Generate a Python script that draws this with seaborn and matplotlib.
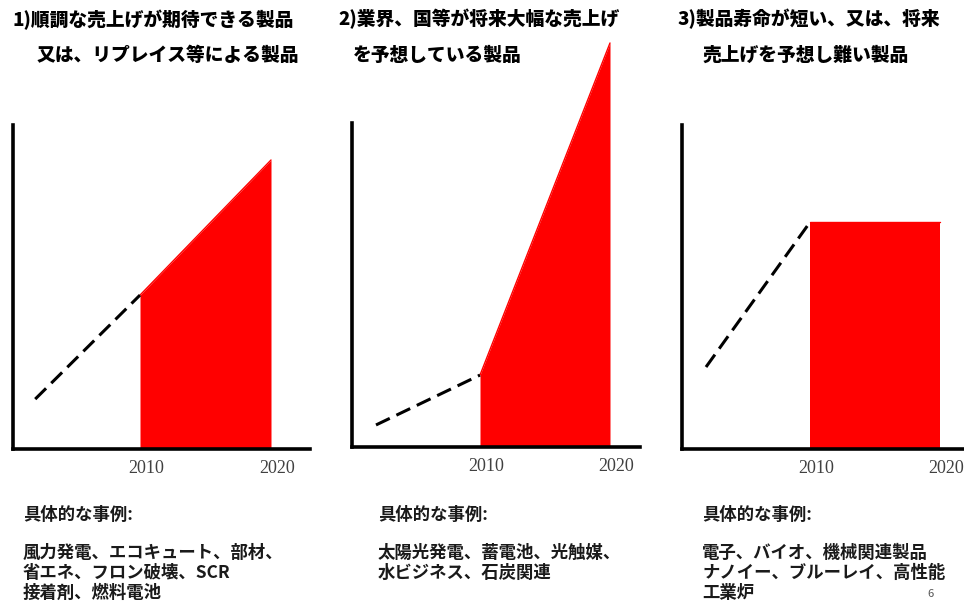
import matplotlib
matplotlib.use("Agg")
import matplotlib.pyplot as plt
import seaborn as sns
import pandas as pd

# ---- data ----
years_hist = [2002, 2010]
years_fore = [2010, 2020]
tick_years = [2010, 2020]
tick_labels = ["2010", "2020"]

p1_hist = [15.4, 47.5]
p1_fore = [47.5, 89.2]
p2_hist = [6.8, 22.2]
p2_fore = [22.2, 124.7]
p3_hist = [25.3, 70.0]
p3_fore = [70.0, 70.0]

titles = [
    ("1)順調な売上げが期待できる製品", "又は、リプレイス等による製品"),
    ("2)業界、国等が将来大幅な売上げ", "を予想している製品"),
    ("3)製品寿命が短い、又は、将来", "売上げを予想し難い製品"),
]
example_head = "具体的な事例:"
examples = [
    ["風力発電、エコキュート、部材、", "省エネ、フロン破壊、SCR", "接着剤、燃料電池"],
    ["太陽光発電、蓄電池、光触媒、", "水ビジネス、石炭関連"],
    ["電子、バイオ、機械関連製品", "ナノイー、ブルーレイ、高性能", "工業炉"],
]
page_no = "6"

# ---- figure ----
sns.set_theme(style="white")
plt.rcParams["font.family"] = ["Noto Sans CJK JP", "DejaVu Sans"]

W, H = 964, 612
fig = plt.figure(figsize=(W / 100, H / 100), dpi=100)
fig.patch.set_facecolor("white")

YMAX = 130.0
PX_PER_UNIT = 3.24

# panel geometry in pixels: spine x, right end, x of 2010, x of 2020, baseline y
geoms = [
    (13, 310, 140, 271, 449),
    (352, 640, 480, 610, 447),
    (682, 964, 810, 940, 449),
]
series = [(p1_hist, p1_fore), (p2_hist, p2_fore), (p3_hist, p3_fore)]

for (x0, x1, x10, x20, yb), (hist, fore) in zip(geoms, series):
    ppy = (x20 - x10) / 10.0
    xl = (2010 - (x10 - x0) / ppy, 2010 + (x1 - x10) / ppy)
    hpx = YMAX * PX_PER_UNIT
    ax = fig.add_axes([x0 / W, (H - yb) / H, (x1 - x0) / W, hpx / H])
    ax.set_facecolor("none")
    ax.set_xlim(*xl)
    ax.set_ylim(0, YMAX)

    ax.fill_between(years_fore, [0, 0], fore, color="#ff0000", linewidth=0, zorder=2)
    sns.lineplot(x=years_fore, y=fore, ax=ax, color="#ff0000", linewidth=1.0,
                 legend=False, zorder=2)
    sns.lineplot(x=years_hist, y=hist, ax=ax, color="black", linewidth=2.2,
                 linestyle=(0, (5, 2.4)), dash_capstyle="butt", legend=False, zorder=3)

    for side in ("top", "right"):
        ax.spines[side].set_visible(False)
    ax.spines["left"].set_bounds(0, 100)
    ax.spines["left"].set_linewidth(2.6)
    ax.spines["bottom"].set_linewidth(2.6)
    ax.spines["left"].set_color("black")
    ax.spines["bottom"].set_color("black")
    ax.spines["left"].set_zorder(4)
    ax.spines["bottom"].set_zorder(4)

    ax.set_yticks([])
    ax.set_xticks([y + 0.5 for y in tick_years])
    ax.set_xticklabels(tick_labels, family=["Liberation Serif", "DejaVu Serif"],
                       fontsize=13, color="#404040")
    ax.tick_params(axis="x", length=0, pad=8)
    ax.set_xlabel("")
    ax.set_ylabel("")

# titles
title_pos = [((12, 20), (37, 55)), ((338, 19), (353, 55)), ((678, 19), (703, 55))]
for (l1, l2), ((ax1, ay1), (ax2, ay2)) in zip(titles, title_pos):
    fig.text(ax1 / W, 1 - ay1 / H, l1, fontsize=13.5, fontweight="black",
             ha="left", va="center", color="black")
    fig.text(ax2 / W, 1 - ay2 / H, l2, fontsize=13.5, fontweight="black",
             ha="left", va="center", color="black")

# examples
ex_x = [23, 378, 702]
for x, lines in zip(ex_x, examples):
    fig.text(x / W, 1 - 515 / H, example_head, fontsize=12.5, fontweight="bold",
             ha="left", va="center", color="#1a1a1a")
    for i, line in enumerate(lines):
        fig.text(x / W, 1 - (553 + 20 * i) / H, line, fontsize=12.5, fontweight="bold",
                 ha="left", va="center", color="#1a1a1a")

fig.text(930 / W, 1 - 594 / H, page_no, fontsize=8, ha="center", va="center",
         color="#555555")

fig.savefig("out.png", dpi=100, facecolor="white")
